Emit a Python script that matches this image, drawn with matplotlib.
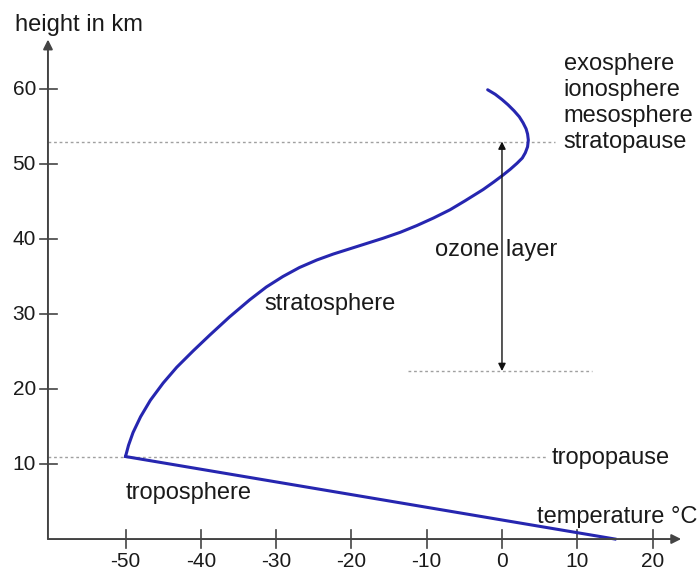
import matplotlib.pyplot as plt

plt.rcParams['font.family'] = ['Liberation Sans', 'DejaVu Sans']

# temperature profile (deg C, km)
tropo_temp = [15, -50]
tropo_height = [0, 11]

strato_temp = [-50, -49.6, -49.0, -48.0, -46.7, -45.0, -43.2, -41.0, -38.8, -36.2,
               -33.5, -31.3, -29.1, -26.9, -24.6, -22.4, -20.2, -18.0, -15.8, -13.5,
               -11.3, -9.1, -6.9, -4.9, -2.5, -1.1, 0.1, 1.1, 2.0, 2.7,
               3.1, 3.4, 3.5, 3.4, 3.2, 2.8, 2.3, 1.6, 0.8, 0.0, -0.9, -1.9]
strato_height = [11, 12.5, 14.2, 16.3, 18.5, 20.8, 22.9, 25.1, 27.2, 29.6,
                 31.9, 33.6, 35.0, 36.2, 37.2, 38.0, 38.7, 39.4, 40.1, 40.9,
                 41.8, 42.8, 43.9, 45.1, 46.6, 47.6, 48.5, 49.3, 50.1, 50.8,
                 51.5, 52.3, 53.2, 54.0, 54.7, 55.5, 56.3, 57.1, 57.9, 58.6, 59.3, 59.9]

x_ticks = [-50, -40, -30, -20, -10, 0, 10, 20]
y_ticks = [10, 20, 30, 40, 50, 60]

tropopause = 11
stratopause = 53
ozone_bottom = 22.4

upper_layers = ['exosphere', 'ionosphere', 'mesosphere', 'stratopause']

fig = plt.figure(figsize=(7, 5.73), dpi=100)
ax = fig.add_axes([0, 0, 1, 1])
ax.set_xlim(-66.67, 26.3)
ax.set_ylim(-4.53, 71.87)
ax.axis('off')

axis_col = '#444444'
x0 = -60.3  # where the y axis sits

# axes with arrow heads
ax.annotate('', xy=(23.8, 0), xytext=(x0, 0),
            arrowprops=dict(arrowstyle='-|>', color=axis_col, lw=1.4, mutation_scale=14,
                            shrinkA=0, shrinkB=0))
ax.annotate('', xy=(x0, 66.6), xytext=(x0, 0),
            arrowprops=dict(arrowstyle='-|>', color=axis_col, lw=1.4, mutation_scale=14,
                            shrinkA=0, shrinkB=0))

# ticks + labels
for t in x_ticks:
    ax.plot([t, t], [-1.2, 1.2], color=axis_col, lw=1.2)
    ax.text(t, -3.0, str(t), ha='center', va='center', fontsize=15, color='#1a1a1a')
for t in y_ticks:
    ax.plot([x0 - 1.1, x0 + 1.2], [t, t], color=axis_col, lw=1.2)
    ax.text(x0 - 1.6, t, str(t), ha='right', va='center', fontsize=15, color='#1a1a1a')

# dotted reference lines
dot = dict(color='#a0a0a0', lw=1, ls=(0, (2, 2)))
ax.plot([x0, 7.0], [stratopause, stratopause], **dot)
ax.plot([x0, 6.0], [tropopause, tropopause], **dot)
ax.plot([-12.5, 12.0], [ozone_bottom, ozone_bottom], **dot)

# ozone layer double arrow
ax.annotate('', xy=(0, stratopause), xytext=(0, ozone_bottom),
            arrowprops=dict(arrowstyle='<|-|>', color='#111111', lw=1, mutation_scale=11,
                            shrinkA=0, shrinkB=0))

# temperature curve
curve_col = '#2626b0'
ax.plot(tropo_temp, tropo_height, color=curve_col, lw=2.2, solid_joinstyle='miter')
ax.plot(strato_temp, strato_height, color=curve_col, lw=2.2,
        solid_joinstyle='round', solid_capstyle='round')

# labels
fs = 17
txt = '#1a1a1a'
ax.text(-64.7, 68.5, 'height in km', ha='left', va='center', fontsize=fs, color=txt)
ax.text(4.6, 3.0, 'temperature °C', ha='left', va='center', fontsize=fs, color=txt)
ax.text(-50, 6.1, 'troposphere', ha='left', va='center', fontsize=fs, color=txt)
ax.text(6.6, 10.8, 'tropopause', ha='left', va='center', fontsize=fs, color=txt)
ax.text(-22.8, 31.3, 'stratosphere', ha='center', va='center', fontsize=fs, color=txt)
ax.text(-0.8, 38.6, 'ozone layer', ha='center', va='center', fontsize=fs, color=txt)
for i, name in enumerate(upper_layers):
    ax.text(8.2, 63.3 - i * 3.45, name, ha='left', va='center', fontsize=fs, color=txt)

fig.savefig('out.png', dpi=100)
